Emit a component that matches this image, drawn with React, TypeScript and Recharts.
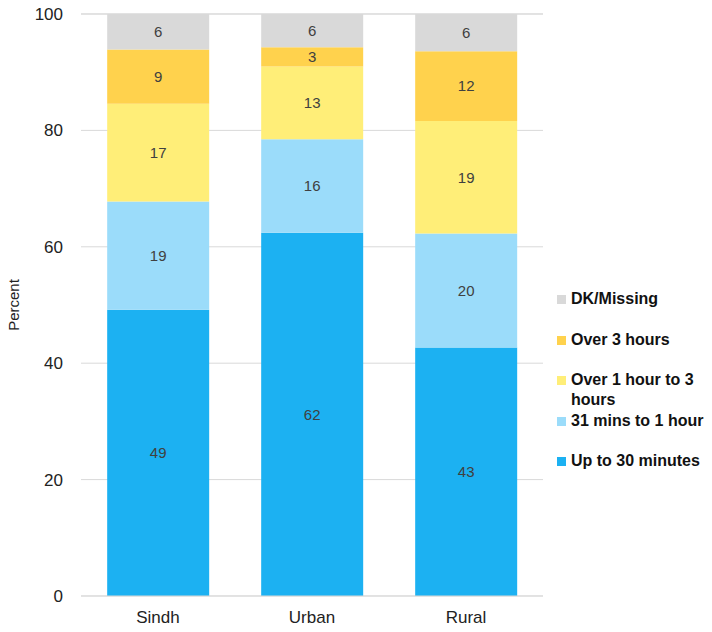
import { BarChart, Bar, XAxis, YAxis, CartesianGrid, Legend, LabelList } from 'recharts';

const categories = ['Sindh', 'Urban', 'Rural'];
const upTo30 = [49.2, 62.4, 42.7];
const mins31To1h = [18.6, 16.1, 19.6];
const over1To3h = [16.8, 12.5, 19.3];
const over3h = [9.3, 3.3, 12.0];
const dkMissing = [6.1, 5.7, 6.4];
const yTicks = [0, 20, 40, 60, 80, 100];

const series = [
  { key: 'upTo30', name: 'Up to 30 minutes', color: '#1cb1f2', values: upTo30 },
  { key: 'mins31To1h', name: '31 mins to 1 hour', color: '#9bdcfa', values: mins31To1h },
  { key: 'over1To3h', name: 'Over 1 hour to 3 hours', color: '#ffee78', values: over1To3h },
  { key: 'over3h', name: 'Over 3 hours', color: '#ffd24d', values: over3h },
  { key: 'dkMissing', name: 'DK/Missing', color: '#d9d9d9', values: dkMissing },
];

const data = categories.map((name, i) => {
  const row: Record<string, string | number> = { name };
  series.forEach((s) => {
    row[s.key] = s.values[i];
  });
  return row;
});

const FONT = '"Liberation Sans", Arial, sans-serif';

// legend is drawn top to bottom in reverse stack order, like the source
function LegendContent() {
  const items = [...series].reverse();
  return (
    <div style={{ position: 'relative', width: 150, height: 200, fontFamily: FONT }}>
      {items.map((s, i) => (
        <div
          key={s.key}
          style={{ position: 'absolute', left: 0, top: i * 40.5, display: 'flex', alignItems: 'flex-start' }}
        >
          <span
            style={{ display: 'inline-block', width: 9, height: 9, background: s.color, marginTop: 6, marginRight: 5 }}
          />
          <span style={{ width: 142, fontSize: 16, fontWeight: 700, lineHeight: '20px', color: '#111' }}>
            {s.name}
          </span>
        </div>
      ))}
    </div>
  );
}

export default function App() {
  return (
    <div style={{ position: 'absolute', left: 0, top: 0, width: 712, height: 632, background: '#fff' }}>
      <BarChart
        width={712}
        height={632}
        data={data}
        margin={{ top: 14, right: 169, bottom: 0, left: 0 }}
        barCategoryGap="17%"
      >
        <CartesianGrid vertical={false} stroke="#d9d9d9" />
        <XAxis
          dataKey="name"
          axisLine={{ stroke: '#d9d9d9' }}
          tickLine={false}
          tickSize={0}
          tickMargin={15}
          height={36}
          tick={{ fill: '#222', fontSize: 17, fontFamily: FONT }}
        />
        <YAxis
          width={81}
          domain={[0, 100]}
          ticks={yTicks}
          axisLine={false}
          tickLine={false}
          tickSize={0}
          tickMargin={18}
          tick={{ fill: '#222', fontSize: 17, fontFamily: FONT }}
          label={{
            value: 'Percent',
            angle: -90,
            position: 'insideLeft',
            offset: 14,
            style: { textAnchor: 'middle', fontSize: 15, fontFamily: FONT, fill: '#222' },
          }}
        />
        <Legend
          layout="vertical"
          align="center"
          verticalAlign="middle"
          content={<LegendContent />}
          wrapperStyle={{ position: 'absolute', left: 557, top: 289, width: 155 }}
        />
        {series.map((s) => (
          <Bar key={s.key} dataKey={s.key} name={s.name} stackId="a" fill={s.color} isAnimationActive={false}>
            <LabelList
              dataKey={s.key}
              position="center"
              formatter={(v: number) => Math.round(v)}
              style={{ fill: '#404040', fontSize: 15, fontFamily: FONT }}
            />
          </Bar>
        ))}
      </BarChart>
    </div>
  );
}
